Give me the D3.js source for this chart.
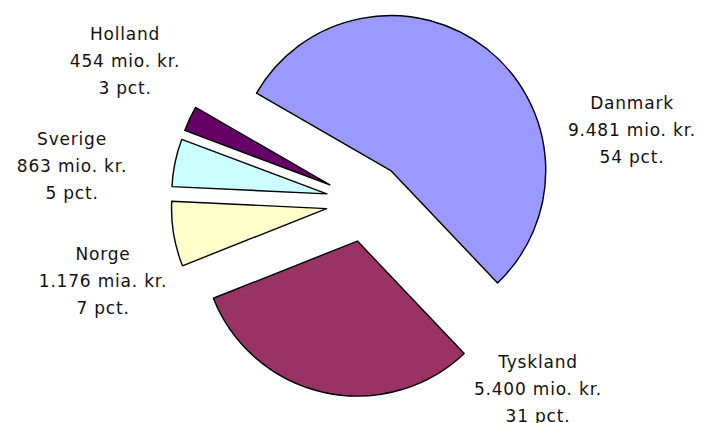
<!DOCTYPE html>
<html>
<head>
  <meta charset="UTF-8">
  <title>Eksport fordelt på lande</title>
  <script src="https://d3js.org/d3.v7.min.js"></script>
  <style>
    body { margin: 0; background: #fff; }
    text { font-family: "DejaVu Sans", Verdana, sans-serif; font-size: 17px; fill: #111; letter-spacing: 0.8px; }
  </style>
</head>
<body>
  <div id="chart"></div>
  <script>
    // data, in the order the slices run clockwise
    const countries = ["Danmark", "Tyskland", "Norge", "Sverige", "Holland"];
    const amounts = [9481, 5400, 1176, 863, 454];
    const amountLabels = ["9.481 mio. kr.", "5.400 mio. kr.", "1.176 mia. kr.", "863 mio. kr.", "454 mio. kr."];
    const pctLabels = ["54 pct.", "31 pct.", "7 pct.", "5 pct.", "3 pct."];
    const colors = ["#9999ff", "#993366", "#ffffcc", "#ccffff", "#660066"];

    const width = 704, height = 423;
    const cx = 366, cy = 202;
    const radius = 155;
    const explode = 40;

    // label anchor spots (centre of the text block)
    const labelPos = [[632, 130], [538, 389], [103, 281], [72, 166], [125, 61]];

    const rows = countries.map((c, i) => ({
      name: c, value: amounts[i], amount: amountLabels[i], pct: pctLabels[i], color: colors[i], pos: labelPos[i]
    }));

    const svg = d3.select("#chart").append("svg")
      .attr("width", width)
      .attr("height", height);

    const start = -60 * Math.PI / 180;
    const pie = d3.pie()
      .value(d => d.value)
      .sort(null)
      .startAngle(start)
      .endAngle(start + 2 * Math.PI);

    const arc = d3.arc().innerRadius(0).outerRadius(radius);

    const g = svg.append("g").attr("transform", "translate(" + cx + "," + cy + ")");

    g.selectAll("path")
      .data(pie(rows))
      .enter()
      .append("path")
      .attr("d", arc)
      .attr("fill", d => d.data.color)
      .attr("stroke", "#000")
      .attr("stroke-width", 1.4)
      .attr("stroke-linejoin", "round")
      .attr("transform", function(d) {
        const mid = (d.startAngle + d.endAngle) / 2;
        return "translate(" + (Math.sin(mid) * explode) + "," + (-Math.cos(mid) * explode) + ")";
      });

    const labels = svg.selectAll(".lbl")
      .data(rows)
      .enter()
      .append("text")
      .attr("class", "lbl")
      .attr("text-anchor", "middle")
      .attr("x", d => d.pos[0])
      .attr("y", d => d.pos[1]);

    labels.each(function(d) {
      const t = d3.select(this);
      [d.name, d.amount, d.pct].forEach(function(line, k) {
        t.append("tspan")
          .attr("x", d.pos[0])
          .attr("y", d.pos[1] + (k - 1) * 27 + 6)
          .text(line);
      });
    });
  </script>
</body>
</html>
